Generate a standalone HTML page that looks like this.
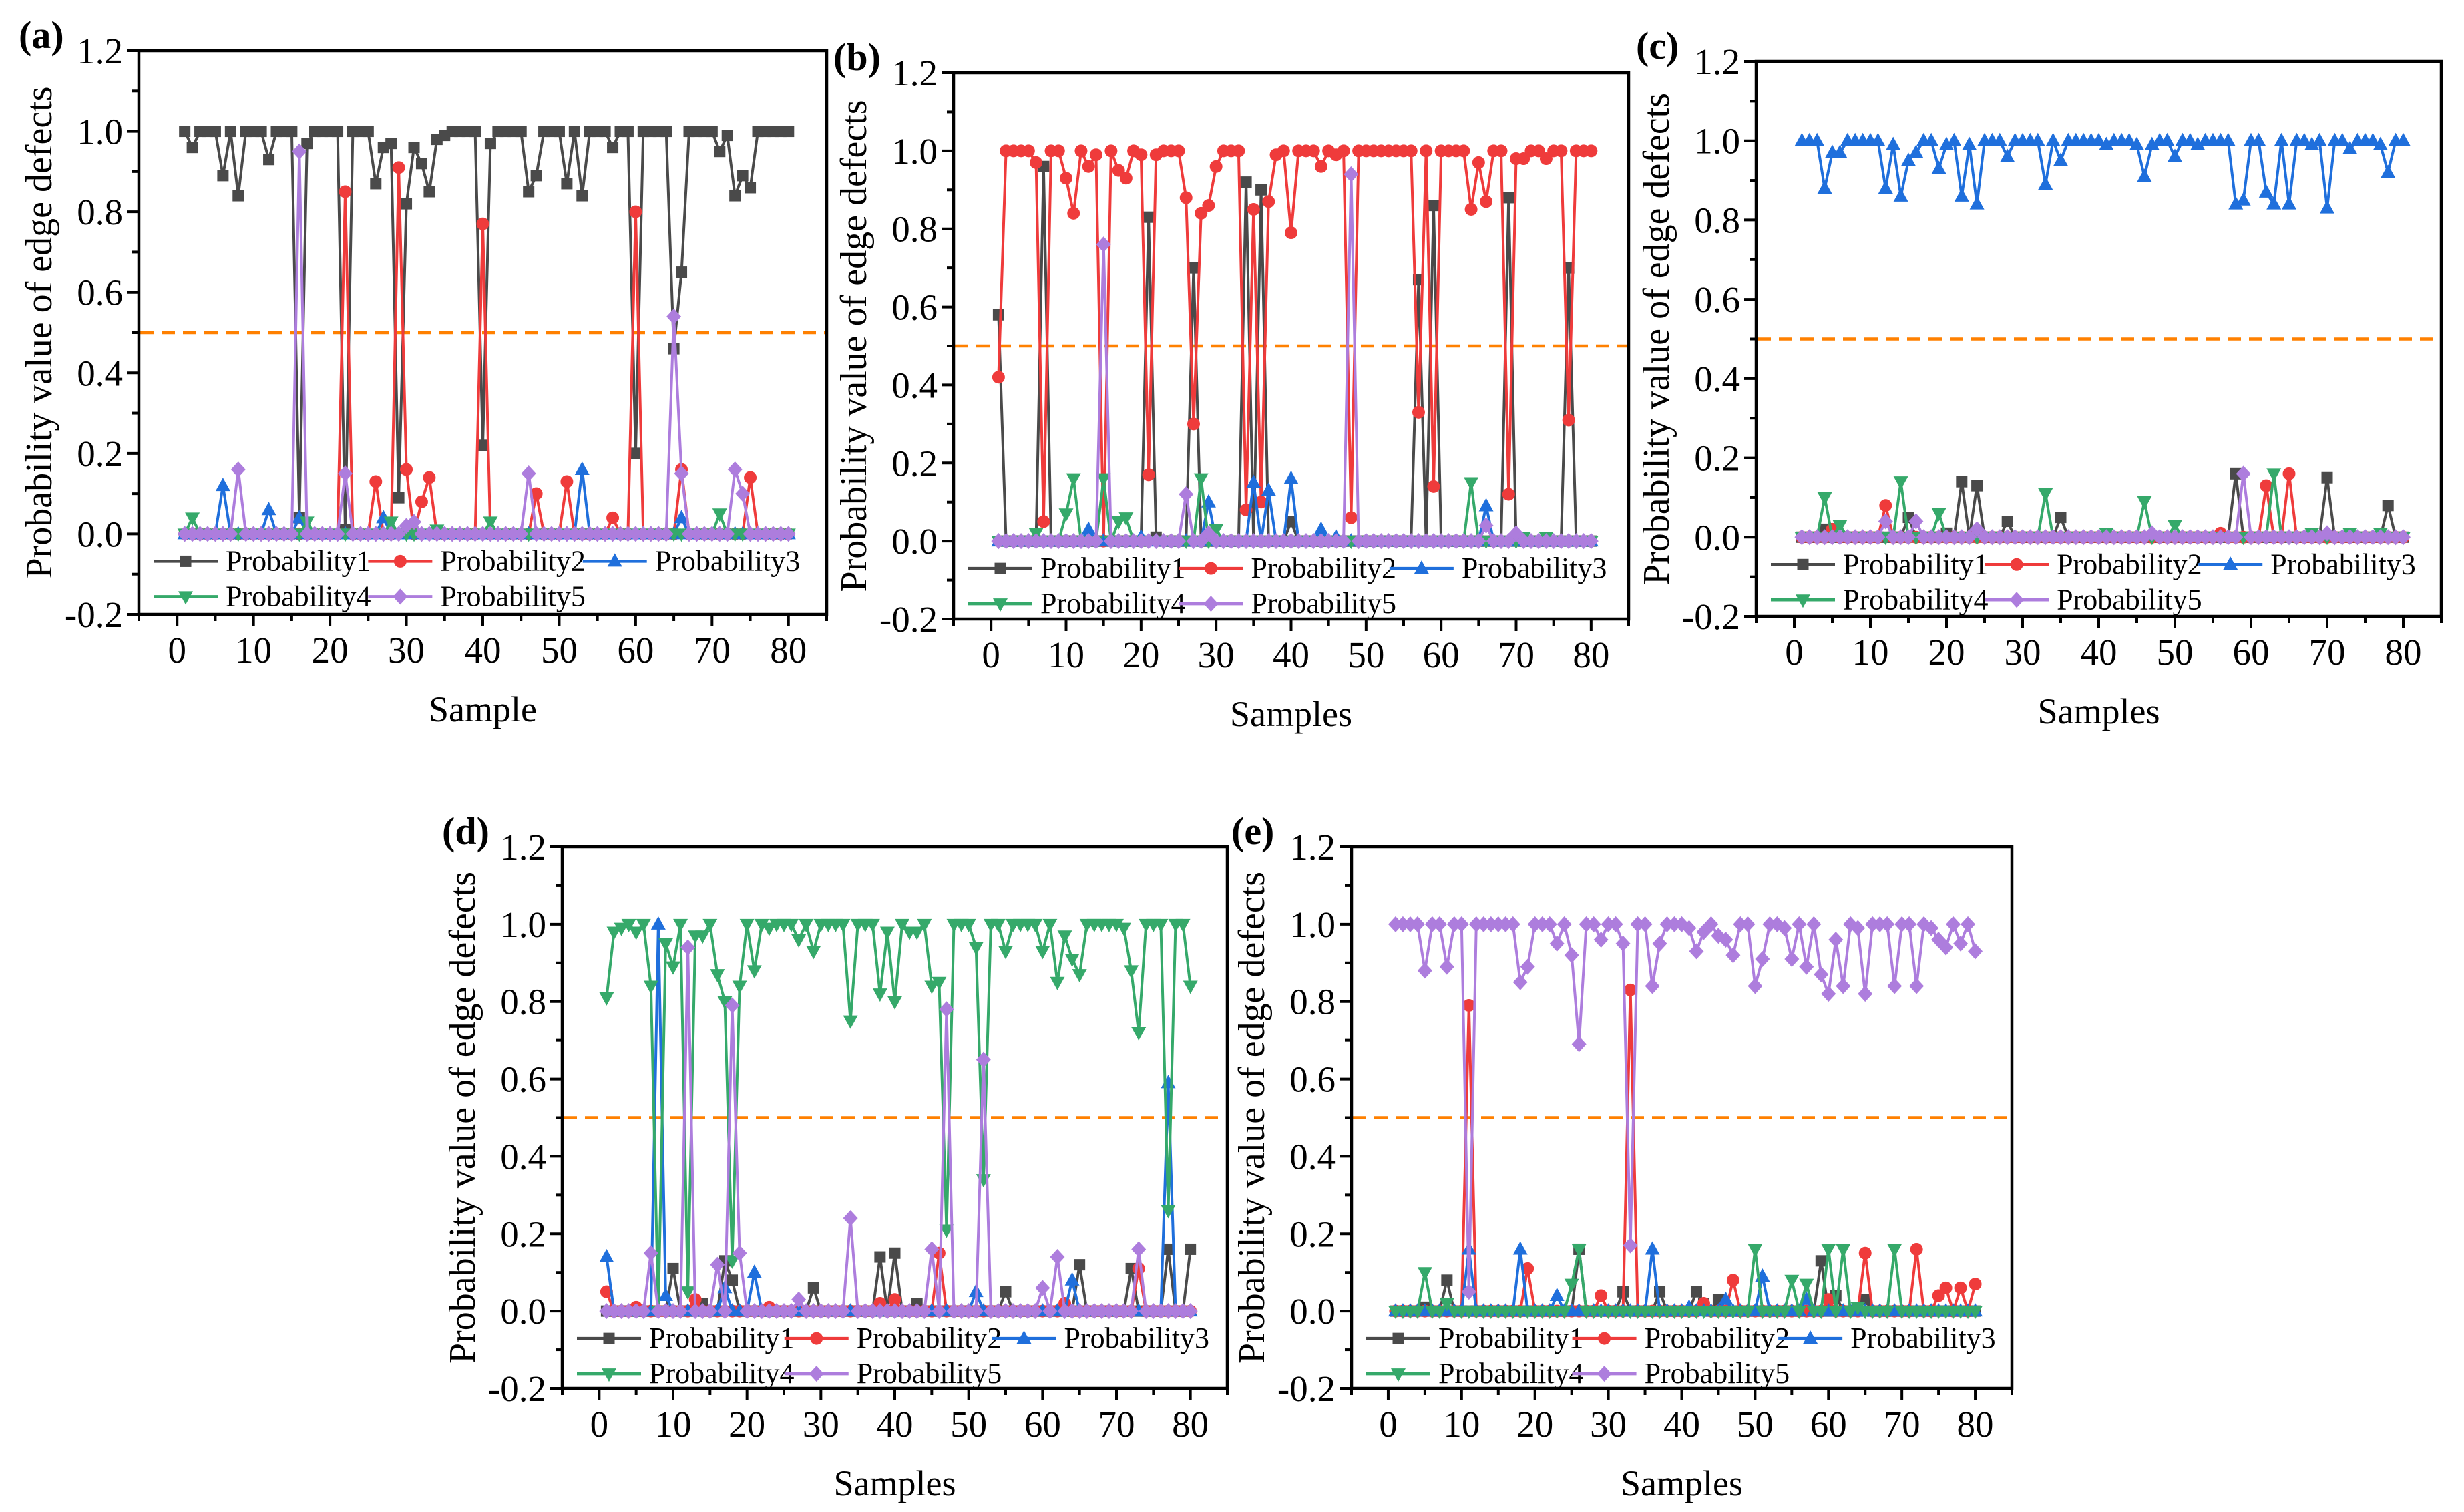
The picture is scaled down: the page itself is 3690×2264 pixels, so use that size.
<!DOCTYPE html>
<html><head><meta charset="utf-8">
<style>
html,body{margin:0;padding:0;background:#fff;}
svg{display:block;font-family:"Liberation Serif","Times New Roman",serif;}
</style></head>
<body>
<svg id="fig" xmlns="http://www.w3.org/2000/svg" width="3690" height="2264" viewBox="0 0 3690 2264">
<rect x="0" y="0" width="3690" height="2264" fill="#ffffff"/>
</svg>
<script>
// ---------- Data ----------
const xTicks = [0,10,20,30,40,50,60,70,80];
const yTicks = [-0.2,0,0.2,0.4,0.6,0.8,1.0,1.2];
const yTickLabels = ["-0.2","0.0","0.2","0.4","0.6","0.8","1.0","1.2"];
const seriesNames = ["Probability1","Probability2","Probability3","Probability4","Probability5"];
const threshold = 0.5;

const aP1 = [1,0.96,1,1,1,0.89,1,0.84,1,1,
1,0.93,1,1,1,0.04,0.97,1,1,1,
1,0.01,1,1,1,0.87,0.96,0.97,0.09,0.82,
0.96,0.92,0.85,0.98,0.99,1,1,1,1,0.22,
0.97,1,1,1,1,0.85,0.89,1,1,1,
0.87,1,0.84,1,1,1,0.96,1,1,0.2,
1,1,1,1,0.46,0.65,1,1,1,1,
0.95,0.99,0.84,0.89,0.86,1,1,1,1,1];
const aP2 = [0,0,0,0,0,0,0,0,0,0,
0,0,0,0,0,0,0,0,0,0,
0,0.85,0,0,0,0.13,0,0,0.91,0.16,
0,0.08,0.14,0,0,0,0,0,0,0.77,
0,0,0,0,0,0,0.10,0,0,0,
0.13,0,0,0,0,0,0.04,0,0,0.80,
0,0,0,0,0,0.16,0,0,0,0,
0,0,0,0,0.14,0,0,0,0,0];
const aP3 = [0,0,0,0,0,0.12,0,0,0,0,
0,0.06,0,0,0,0.04,0,0,0,0,
0,0,0,0,0,0,0.04,0,0,0,
0,0,0,0,0,0,0,0,0,0,
0,0,0,0,0,0,0,0,0,0,
0,0,0.16,0,0,0,0,0,0,0,
0,0,0,0,0,0.04,0,0,0,0,
0,0,0,0,0,0,0,0,0,0];
const aP4 = [0,0.04,0,0,0,0,0,0,0,0,
0,0,0,0,0,0,0.03,0,0,0,
0,0,0,0,0,0,0,0.03,0,0,
0,0,0,0.01,0,0,0,0,0,0,
0.03,0,0,0,0,0,0,0,0,0,
0,0,0,0,0,0,0,0,0,0,
0,0,0,0,0,0,0,0,0,0,
0.05,0,0,0,0,0,0,0,0,0];
const aP5 = [0,0,0,0,0,0,0,0.16,0,0,
0,0,0,0,0,0.95,0,0,0,0,
0,0.15,0,0,0,0,0,0,0,0.02,
0.03,0,0,0,0,0,0,0,0,0,
0,0,0,0,0,0.15,0,0,0,0,
0,0,0,0,0,0,0,0,0,0,
0,0,0,0,0.54,0.15,0,0,0,0,
0,0,0.16,0.10,0,0,0,0,0,0];

const bP1 = [0.58,0,0,0,0,0,0.96,0,0,0,
0,0,0,0,0,0,0,0,0,0,
0.83,0.01,0,0,0,0,0.70,0,0,0,
0,0,0,0.92,0,0.90,0,0,0,0.05,
0,0,0,0,0,0,0,0,0,0,
0,0,0,0,0,0,0.67,0,0.86,0,
0,0,0,0,0,0,0,0,0.88,0,
0,0,0,0,0,0,0.70,0,0,0];
const bP2 = [0.42,1,1,1,1,0.97,0.05,1,1,0.93,
0.84,1,0.96,0.99,0,1,0.95,0.93,1,0.99,
0.17,0.99,1,1,1,0.88,0.30,0.84,0.86,0.96,
1,1,1,0.08,0.85,0.10,0.87,0.99,1,0.79,
1,1,1,0.96,1,0.99,1,0.06,1,1,
1,1,1,1,1,1,0.33,1,0.14,1,
1,1,1,0.85,0.97,0.87,1,1,0.12,0.98,
0.98,1,1,0.98,1,1,0.31,1,1,1];
const bP3 = [0,0,0,0,0,0,0,0,0,0,
0,0,0.03,0,0,0,0,0,0,0.01,
0,0,0,0,0,0,0,0,0.10,0,
0,0,0,0,0.15,0,0.13,0,0,0.16,
0,0,0,0.03,0,0.01,0,0,0,0,
0,0,0,0,0,0,0,0,0,0,
0,0,0,0,0,0.09,0,0,0,0,
0,0,0,0,0,0,0,0,0,0];
const bP4 = [0,0,0,0,0,0.02,0,0,0,0.07,
0.16,0,0,0,0.16,0,0.05,0.06,0,0,
0,0,0,0,0,0,0,0.16,0,0.03,
0,0,0,0,0,0,0,0,0,0,
0,0,0,0,0,0,0,0,0,0,
0,0,0,0,0,0,0,0,0,0,
0,0,0,0.15,0,0,0,0,0,0,
0.01,0,0,0.01,0,0,0,0,0,0];
const bP5 = [0,0,0,0,0,0,0,0,0,0,
0,0,0,0,0.76,0,0,0,0,0,
0,0,0,0,0,0.12,0,0,0.02,0,
0,0,0,0,0,0,0,0,0,0,
0,0,0,0,0,0,0,0.94,0,0,
0,0,0,0,0,0,0,0,0,0,
0,0,0,0,0,0.04,0,0,0,0.02,
0,0,0,0,0,0,0,0,0,0];

const cP1 = [0,0,0,0.02,0,0,0,0,0,0,
0,0,0,0,0.05,0,0,0,0,0.01,
0,0.14,0,0.13,0,0,0,0.04,0,0,
0,0,0,0,0.05,0,0,0,0,0,
0,0,0,0,0,0,0,0,0,0,
0,0,0,0,0,0,0,0.16,0,0,
0,0,0,0,0,0,0,0,0,0.15,
0,0,0,0,0,0,0,0.08,0,0];
const cP2 = [0,0,0,0,0.02,0,0,0,0,0,
0,0.08,0,0,0,0,0,0,0,0,
0,0,0,0,0,0,0,0,0,0,
0,0,0,0,0,0,0,0,0,0,
0,0,0,0,0,0,0,0,0,0,
0,0,0,0,0,0.01,0,0,0,0,
0,0.13,0,0,0.16,0,0,0,0,0,
0,0,0,0,0,0,0,0,0,0];
const cP3 = [1,1,1,0.88,0.97,0.97,1,1,1,1,
1,0.88,0.99,0.86,0.95,0.97,1,1,0.93,0.99,
1,0.86,0.99,0.84,1,1,1,0.96,1,1,
1,1,0.89,1,0.95,1,1,1,1,1,
0.99,1,1,1,0.99,0.91,0.99,1,1,0.96,
1,1,0.99,1,1,1,1,0.84,0.85,1,
1,0.87,0.84,1,0.84,1,1,0.99,1,0.83,
1,1,0.98,1,1,1,0.99,0.92,1,1];
const cP4 = [0,0,0,0.10,0,0.03,0,0,0,0,
0,0,0,0.14,0,0,0,0,0.06,0,
0,0,0,0,0,0,0,0,0,0,
0,0,0.11,0,0,0,0,0,0,0,
0.01,0,0,0,0,0.09,0,0,0,0.03,
0,0,0,0,0,0,0,0,0,0,
0,0,0.16,0,0,0,0,0.01,0,0,
0,0,0.01,0,0,0,0.01,0,0,0];
const cP5 = [0,0,0,0,0,0,0,0,0,0,
0,0.04,0,0,0,0.04,0,0,0,0,
0,0,0,0.02,0,0,0,0,0,0,
0,0,0,0,0,0,0,0,0,0,
0,0,0,0,0,0,0.01,0,0,0,
0,0,0,0,0,0,0,0,0.16,0,
0,0,0,0,0,0,0,0,0,0.01,
0,0,0,0,0,0,0,0,0,0];

const dP1 = [0,0,0,0,0,0,0,0,0,0.11,
0,0,0,0.02,0,0,0.13,0.08,0,0,
0,0,0,0,0,0,0,0,0.06,0,
0,0,0,0,0,0,0,0.14,0,0.15,
0,0,0.02,0,0,0,0,0,0,0,
0,0,0,0,0.05,0,0,0,0,0,
0,0,0,0,0.12,0,0,0,0,0,
0,0.11,0,0,0,0,0.16,0,0,0.16];
const dP2 = [0.05,0,0,0,0.01,0,0,0,0,0,
0,0,0.03,0,0,0,0,0,0,0,
0,0,0.01,0,0,0,0,0,0,0,
0,0,0,0,0,0,0,0.02,0,0.03,
0,0,0,0,0,0.15,0,0,0,0,
0,0,0,0,0,0,0,0,0,0,
0,0,0.02,0,0,0,0,0,0,0,
0,0,0.11,0,0,0,0,0,0,0];
const dP3 = [0.14,0,0,0,0,0,0,1.0,0.04,0,
0,0,0,0,0,0,0.06,0,0,0,
0.10,0,0,0,0,0,0,0,0,0,
0,0,0,0,0,0,0,0,0,0,
0,0,0,0,0,0,0,0,0,0,
0.05,0,0,0,0,0,0,0,0,0,
0,0,0,0.08,0,0,0,0,0,0,
0,0,0,0,0,0,0.59,0,0,0];
const dP4 = [0.81,0.98,0.99,1,0.98,1,0.84,0,0.95,0.89,
1,0.05,0.97,0.97,1,0.87,0.80,0.13,0.84,1,
0.88,1,0.99,1,1,1,0.96,1,0.93,1,
1,1,1,0.75,1,1,1,0.82,0.98,0.80,
1,0.98,0.98,1,0.84,0.85,0.21,1,1,1,
0.94,0.34,1,1,0.93,1,1,1,1,0.93,
1,0.85,0.97,0.91,0.87,1,1,1,1,1,
0.99,0.88,0.72,1,1,1,0.26,1,1,0.84];
const dP5 = [0,0,0,0,0,0,0.15,0,0,0,
0,0.94,0,0,0,0.12,0,0.79,0.15,0,
0,0,0,0,0,0,0.03,0,0,0,
0,0,0,0.24,0,0,0,0,0,0,
0,0,0,0,0.16,0,0.78,0,0,0,
0,0.65,0,0,0,0,0,0,0,0.06,
0,0.14,0,0,0,0,0,0,0,0,
0,0,0.16,0,0,0,0,0,0,0];

const eP1 = [0,0,0,0,0.01,0,0,0.08,0,0,
0,0,0,0,0,0,0,0,0,0,
0,0,0,0,0,0.16,0,0,0,0,
0,0.05,0,0,0,0,0.05,0,0,0,
0,0.05,0.02,0,0.03,0,0,0,0,0,
0,0,0,0,0,0,0,0,0.13,0,
0.04,0,0,0,0.03,0,0,0,0,0,
0,0,0,0,0,0,0,0,0,0];
const eP2 = [0,0,0,0,0,0,0,0,0,0,
0.79,0,0,0,0,0,0,0,0.11,0,
0,0,0,0,0,0,0,0,0.04,0,
0,0,0.83,0,0,0,0,0,0,0,
0,0,0.02,0,0,0,0.08,0,0,0,
0,0,0,0,0,0,0,0,0,0.03,
0,0,0,0,0.15,0,0,0,0,0,
0,0.16,0,0,0.04,0.06,0,0.06,0,0.07];
const eP3 = [0,0,0,0,0,0,0,0,0,0,
0.16,0,0,0,0,0,0,0.16,0,0,
0,0,0.04,0,0,0,0,0,0,0,
0,0,0,0,0,0.16,0,0,0,0,
0.01,0,0,0,0,0.03,0,0,0,0,
0.09,0,0,0,0,0,0.03,0,0,0,
0,0,0,0,0,0,0,0,0,0,
0,0,0,0,0,0,0,0,0,0];
const eP4 = [0,0,0,0,0.10,0,0,0.02,0,0,
0,0,0,0,0,0,0,0,0,0,
0,0,0,0,0.07,0.16,0,0,0,0,
0,0,0,0,0,0,0,0,0,0,
0,0,0,0,0,0,0,0,0,0.16,
0,0,0,0,0.08,0,0.07,0,0,0.16,
0,0.16,0,0.01,0,0,0,0,0.16,0,
0,0,0,0,0,0,0,0,0,0];
const eP5 = [1,1,1,1,0.88,1,1,0.89,1,1,
0.05,1,1,1,1,1,1,0.85,0.89,1,
1,1,0.95,1,0.92,0.69,1,1,0.96,1,
1,0.95,0.17,1,1,0.84,0.95,1,1,1,
0.99,0.93,0.98,1,0.97,0.96,0.92,1,1,0.84,
0.91,1,1,0.99,0.91,1,0.89,1,0.87,0.82,
0.96,0.84,1,0.99,0.82,1,1,1,0.84,1,
1,0.84,1,0.99,0.96,0.94,1,0.95,1,0.93];

// ---------- Rendering ----------
const NS = "http://www.w3.org/2000/svg";
const svg = document.getElementById('fig');
const COLORS = ["#4a4a4a","#ef3b3b","#1f6fdc","#35a96a","#ad7ddd"];
const SHAPES = ["square","circle","tri-up","tri-down","diamond"];

function mk(tag, attrs, parent){
  const e = document.createElementNS(NS, tag);
  for (const k in attrs) e.setAttribute(k, attrs[k]);
  (parent||svg).appendChild(e);
  return e;
}
function marker(shape, cx, cy, color, parent){
  let e;
  if (shape==="square"){ e = mk('rect',{x:cx-8.5,y:cy-8.5,width:17,height:17,fill:color},parent); }
  else if (shape==="circle"){ e = mk('circle',{cx:cx,cy:cy,r:9.5,fill:color},parent); }
  else if (shape==="tri-up"){ e = mk('polygon',{points:`${cx},${cy-12} ${cx-11},${cy+8} ${cx+11},${cy+8}`,fill:color},parent); }
  else if (shape==="tri-down"){ e = mk('polygon',{points:`${cx},${cy+12} ${cx-11},${cy-8} ${cx+11},${cy-8}`,fill:color},parent); }
  else { e = mk('polygon',{points:`${cx},${cy-12} ${cx+11},${cy} ${cx},${cy+12} ${cx-11},${cy}`,fill:color},parent); }
  return e;
}

function panel(opt){
  const {id,label,L,R,T,B,xlabel,series} = opt;
  const g = mk('g',{});
  
  
  const xS = v => L + (v + 5) / 90 * (R - L);
  const yS = v => B - (v + 0.2) / 1.4 * (B - T);

  const th = mk('line',{x1:L+2,x2:R-2,y1:yS(threshold),y2:yS(threshold),stroke:"#ff8000","stroke-width":4.5,"stroke-dasharray":"20 12"},g);
  
  

  series.forEach((data, si) => {
    const sg = mk('g',{},g);
    
    
    const pts = data.map((v,i)=> xS(i+1).toFixed(1)+","+yS(v).toFixed(1)).join(" ");
    const pl = mk('polyline',{points:pts,fill:"none",stroke:COLORS[si],"stroke-width":4,"stroke-linejoin":"round"},sg);
    
    
    data.forEach((v,i)=>{
      const m = marker(SHAPES[si], xS(i+1), yS(v), COLORS[si], sg);
      
      
    });
  });

  const fr = mk('rect',{x:L,y:T,width:R-L,height:B-T,fill:"none",stroke:"#000","stroke-width":4.5},g);
  
  

  for (let k=0;k<15;k++){
    const v = -0.2 + k*0.1;
    const y = yS(v);
    const major = k%2===0;
    mk('line',{x1:L-(major?18:10),x2:L,y1:y,y2:y,stroke:"#000","stroke-width":4},g);
  }
  yTicks.forEach((v,i)=>{
    const t = mk('text',{x:L-24,y:yS(v)+19,"text-anchor":"end","font-size":55,fill:"#000"},g);
    t.textContent = yTickLabels[i];
    
    
  });
  for (let v=-5; v<=85; v+=5){
    const major = v%10===0;
    mk('line',{x1:xS(v),x2:xS(v),y1:B,y2:B+(major?18:10),stroke:"#000","stroke-width":4},g);
  }
  xTicks.forEach(v=>{
    const t = mk('text',{x:xS(v),y:B+72,"text-anchor":"middle","font-size":55,fill:"#000"},g);
    t.textContent = String(v);
    
    
  });
  const xt = mk('text',{x:(L+R)/2,y:B+160,"text-anchor":"middle","font-size":54,fill:"#000"},g);
  xt.textContent = xlabel;
  
  
  const cy = (T+B)/2, cx = L-150;
  const yt = mk('text',{x:cx,y:cy,"text-anchor":"middle","font-size":56,fill:"#000",transform:`rotate(-90 ${cx} ${cy}) translate(0 19)`},g);
  yt.textContent = "Probability value of edge defects";
  
  
  const pl = mk('text',{x:L-180,y:T-4,"font-size":58,"font-weight":"bold",fill:"#000"},g);
  pl.textContent = label;
  
  

  const lg = mk('g',{},g);
  
  
  const y0 = yS(0);
  const spacing = (R-L)*0.312;
  seriesNames.forEach((name, si)=>{
    const col = si%3, row = Math.floor(si/3);
    const lx = L + 22 + col*spacing;
    const by = y0 + 55 + row*53;
    const ly = by - 14;
    const ent = mk('g',{},lg);
    
    
    mk('line',{x1:lx,x2:lx+96,y1:ly,y2:ly,stroke:COLORS[si],"stroke-width":4.5},ent);
    marker(SHAPES[si], lx+48, ly, COLORS[si], ent);
    const t = mk('text',{x:lx+108,y:by,"font-size":44,fill:"#000"},ent);
    t.textContent = name;
  });
}

panel({id:'a',label:'(a)',L:208,R:1238,T:76,B:920,xlabel:'Sample',series:[aP1,aP2,aP3,aP4,aP5]});
panel({id:'b',label:'(b)',L:1428,R:2439,T:109,B:927,xlabel:'Samples',series:[bP1,bP2,bP3,bP4,bP5]});
panel({id:'c',label:'(c)',L:2630,R:3656,T:92,B:923,xlabel:'Samples',series:[cP1,cP2,cP3,cP4,cP5]});
panel({id:'d',label:'(d)',L:842,R:1838,T:1268,B:2079,xlabel:'Samples',series:[dP1,dP2,dP3,dP4,dP5]});
panel({id:'e',label:'(e)',L:2024,R:3013,T:1268,B:2079,xlabel:'Samples',series:[eP1,eP2,eP3,eP4,eP5]});
</script>
</body></html>
